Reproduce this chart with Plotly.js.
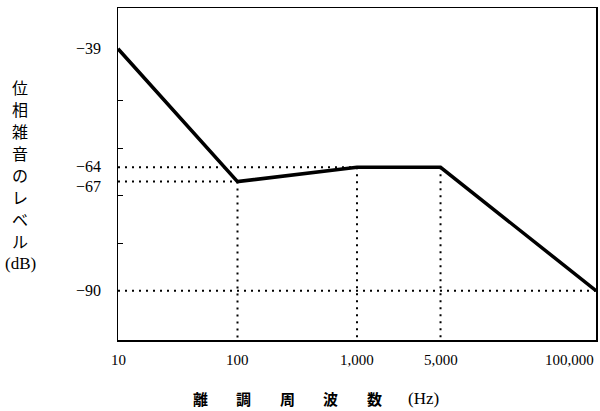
<!DOCTYPE html>
<html>
<head>
<meta charset="utf-8">
<script src="https://cdn.plot.ly/plotly-3.0.1.min.js"></script>
<style>html,body{margin:0;padding:0;background:#fff;}#chart{width:600px;height:411px;}</style>
</head>
<body>
<div id="chart"></div>
<script>
// Data
const freqs = [10, 100, 1000, 5000, 100000];
const levels = [-39, -67, -64, -64, -90];
const xTickLabels = ["10", "100", "1,000", "5,000", "100,000"];
const yMinorTicks = [-50, -60, -70, -80];
const yLabelVals = [-39, -64, -67, -90];
const yLabelText = ["\u221239", "\u221264", "\u221267", "\u221290"];
const yTitleChars = ["位", "相", "雑", "音", "の", "レ", "ベ", "ル", "(dB)"];
const xTitleParts = ["離", "調", "周", "波", "数", "(Hz)"];

const yRange = [-100.4, -30.4];
const xMin = freqs[0], xMax = freqs[freqs.length - 1];

// layout geometry (pixels)
const L = 118, R = 4, T = 8, B = 71, W = 600, H = 411;
const pw = W - L - R, ph = H - T - B;
const px2paperX = p => (p - L) / pw;
const py2paperY = p => 1 - (p - T) / ph;

const traces = [];
const dotStyle = {color: "#000", width: 2, dash: "2px,5px"};
// horizontal guides from left edge to each point
for (let i = 1; i < freqs.length; i++) {
  if (i === 3) continue; // same level as point 2
  traces.push({x: [xMin, freqs[i]], y: [levels[i], levels[i]], mode: "lines",
    line: dotStyle, hoverinfo: "skip", showlegend: false});
}
// vertical guides from interior points down to the axis bottom
for (let i = 1; i < freqs.length - 1; i++) {
  traces.push({x: [freqs[i], freqs[i]], y: [levels[i], yRange[0]], mode: "lines",
    line: dotStyle, hoverinfo: "skip", showlegend: false});
}
// main line
traces.push({x: freqs, y: levels, mode: "lines", line: {color: "#000", width: 3.5},
  showlegend: false, cliponaxis: false});

const serif = "Liberation Serif, serif";
const annotations = [];
// x tick labels
freqs.forEach((f, i) => {
  const last = i === freqs.length - 1;
  annotations.push({xref: "x", yref: "paper", x: Math.log10(f), y: py2paperY(360),
    text: xTickLabels[i], showarrow: false, xanchor: last ? "right" : "center", yanchor: "middle",
    font: {family: serif, size: 15, color: "#000"}});
});
// y tick labels
const yShift = {"-64": 1, "-67": -5};
yLabelVals.forEach((v, i) => {
  annotations.push({xref: "paper", yref: "y", x: px2paperX(103), y: v,
    yshift: yShift[String(v)] || 0,
    text: yLabelText[i], showarrow: false, xanchor: "right", yanchor: "middle",
    font: {family: serif, size: 16, color: "#000"}});
});
// y title (vertical stack)
yTitleChars.forEach((c, i) => {
  const isUnit = c === "(dB)";
  annotations.push({xref: "paper", yref: "paper", x: px2paperX(20), y: py2paperY(87 + i * 22),
    text: c, showarrow: false, xanchor: "center", yanchor: "middle",
    font: {family: isUnit ? serif : "Noto Sans CJK JP", size: isUnit ? 17 : 16, color: "#000"}});
});
// x title
const xTitlePos = [200, 243, 287, 330, 374, 423];
xTitleParts.forEach((c, i) => {
  const isHz = c === "(Hz)";
  annotations.push({xref: "paper", yref: "paper", x: px2paperX(xTitlePos[i]), y: py2paperY(398),
    text: isHz ? c : "<b>" + c + "</b>", showarrow: false, xanchor: "center", yanchor: "middle",
    font: {family: isHz ? serif : "Noto Sans CJK JP", size: isHz ? 17 : 15, color: "#000"}});
});

const layout = {
  width: W, height: H,
  margin: {l: L, r: R, t: T, b: B, pad: 0},
  paper_bgcolor: "#fff", plot_bgcolor: "#fff",
  showlegend: false,
  xaxis: {type: "log", range: [Math.log10(xMin), Math.log10(xMax)],
    showgrid: false, zeroline: false, showline: true, mirror: true,
    linecolor: "#000", linewidth: 1.5, ticks: "", showticklabels: false, fixedrange: true},
  yaxis: {range: yRange, showgrid: false, zeroline: false, showline: true, mirror: true,
    linecolor: "#000", linewidth: 1.5, ticks: "inside", ticklen: 5, tickwidth: 1, tickcolor: "#000",
    tickvals: yMinorTicks, showticklabels: false, fixedrange: true},
  annotations: annotations
};

Plotly.newPlot("chart", traces, layout, {displayModeBar: false, staticPlot: true});
</script>
</body>
</html>
